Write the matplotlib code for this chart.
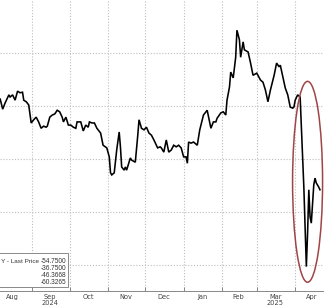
import matplotlib
matplotlib.use("Agg")
import matplotlib.pyplot as plt
import matplotlib.dates as mdates
from matplotlib.patches import Ellipse, Rectangle
import pandas as pd

dates = [
    "2024-08-06","2024-08-08","2024-08-10","2024-08-13","2024-08-14","2024-08-16","2024-08-18",
    "2024-08-20","2024-08-22","2024-08-24","2024-08-25","2024-08-27","2024-08-29","2024-08-31",
    "2024-09-02","2024-09-04","2024-09-06","2024-09-08","2024-09-10","2024-09-12","2024-09-13",
    "2024-09-15","2024-09-17","2024-09-19","2024-09-21","2024-09-23","2024-09-25","2024-09-26",
    "2024-09-28","2024-09-30","2024-10-02","2024-10-04","2024-10-06","2024-10-07","2024-10-10",
    "2024-10-12","2024-10-14","2024-10-16","2024-10-17","2024-10-19","2024-10-21","2024-10-23",
    "2024-10-26","2024-10-28","2024-10-31","2024-11-02","2024-11-03","2024-11-04","2024-11-06",
    "2024-11-08","2024-11-10","2024-11-11","2024-11-12","2024-11-14","2024-11-15","2024-11-16",
    "2024-11-19","2024-11-20","2024-11-23","2024-11-25","2024-11-26","2024-11-28","2024-11-30",
    "2024-12-02","2024-12-04","2024-12-06","2024-12-08","2024-12-11","2024-12-13","2024-12-14",
    "2024-12-16","2024-12-18","2024-12-20","2024-12-22","2024-12-24","2024-12-26","2024-12-28",
    "2024-12-30","2025-01-01","2025-01-03","2025-01-04","2025-01-05","2025-01-07","2025-01-09",
    "2025-01-10","2025-01-12","2025-01-14","2025-01-17","2025-01-19","2025-01-20","2025-01-23",
    "2025-01-25","2025-01-27","2025-01-28","2025-01-31","2025-02-02","2025-02-04","2025-02-05",
    "2025-02-07","2025-02-08","2025-02-10","2025-02-12","2025-02-13","2025-02-15","2025-02-16",
    "2025-02-18","2025-02-19","2025-02-22","2025-02-24","2025-02-26","2025-03-01","2025-03-04",
    "2025-03-06","2025-03-08","2025-03-10","2025-03-12","2025-03-15","2025-03-17","2025-03-19",
    "2025-03-20","2025-03-22","2025-03-24","2025-03-26","2025-03-28","2025-03-30","2025-03-31",
    "2025-04-01","2025-04-03","2025-04-05","2025-04-06","2025-04-07","2025-04-08","2025-04-09",
    "2025-04-10","2025-04-11","2025-04-12","2025-04-13","2025-04-14","2025-04-16","2025-04-17",
    "2025-04-18","2025-04-20","2025-04-21",
]
values = [
    -28.7,-30.6,-29.4,-27.9,-28.3,-27.9,-28.9,
    -27.2,-27.5,-27.4,-28.9,-29.2,-29.8,-33.2,
    -32.6,-32.1,-33.0,-34.2,-33.8,-34.0,-33.8,
    -32.1,-31.7,-31.5,-30.8,-31.1,-32.1,-33.0,
    -32.1,-33.6,-33.6,-34.0,-34.2,-33.0,-33.0,
    -34.7,-33.6,-34.0,-33.0,-33.2,-33.2,-34.2,
    -35.1,-37.4,-37.9,-39.6,-42.6,-43.0,-42.6,
    -38.3,-34.9,-37.7,-41.5,-42.1,-41.5,-42.1,
    -39.8,-40.2,-40.6,-35.5,-32.6,-34.2,-34.5,
    -34.0,-35.1,-35.5,-36.4,-37.9,-37.7,-37.9,
    -38.7,-36.4,-38.7,-38.3,-37.4,-37.7,-37.4,
    -37.9,-39.6,-39.6,-40.8,-36.8,-37.0,-36.8,
    -37.0,-37.4,-34.5,-31.7,-31.1,-30.8,-34.2,
    -33.0,-33.0,-32.3,-31.3,-31.1,-31.7,-28.9,
    -26.4,-23.6,-24.7,-20.8,-15.7,-17.5,-20.8,
    -17.9,-19.4,-19.8,-21.9,-24.2,-23.8,-25.1,
    -25.5,-27.0,-29.2,-27.0,-24.2,-21.9,-22.6,
    -22.3,-24.5,-26.6,-27.9,-30.2,-30.4,-30.2,
    -28.9,-27.9,-28.3,-34.0,-40.2,-45.4,-52.7,
    -60.3,-54.0,-45.8,-50.9,-52.1,-44.9,-43.6,
    -44.5,-45.3,-45.8,
]
legend_label = "Y - Last Price"
legend_values = ["-54.7500", "-36.7500", "-46.3668", "-60.3265"]
month_labels = ["Aug", "Sep\n2024", "Oct", "Nov", "Dec", "Jan", "Feb", "Mar\n2025", "Apr"]
month_label_dates = ["2024-08-16","2024-09-15","2024-10-16","2024-11-15","2024-12-16",
                     "2025-01-16","2025-02-14","2025-03-16","2025-04-14"]
month_starts = ["2024-09-01","2024-10-01","2024-11-01","2024-12-01","2025-01-01",
                "2025-02-01","2025-03-01","2025-04-01"]
grid_levels = [-20, -30, -40, -50, -60]
ellipse_center = ("2025-04-11", -44.3)
ellipse_size = (24.2, 37.9)  # days, units

W, H = 324, 307
fig = plt.figure(figsize=(W/100, H/100), dpi=100)
ax = fig.add_axes([0, 16/H, 1, 291/H])

x = pd.to_datetime(dates)
ax.plot(x, values, color="black", lw=1.15, solid_joinstyle="miter", zorder=3)

ax.set_xlim(pd.Timestamp("2024-08-05 20:00"), pd.Timestamp("2025-04-24 06:00"))
ax.set_ylim(-64.9, -10.0)

for g in grid_levels:
    ax.axhline(g, color="#bdbdbd", lw=0.8, ls=(0, (1, 1.6)), zorder=1)
for m in month_starts:
    ax.axvline(pd.Timestamp(m), color="#bdbdbd", lw=0.8, ls=(0, (1, 1.6)), zorder=1)

ax.set_xticks(pd.to_datetime(month_starts))
ax.set_xticklabels([])
ax.tick_params(axis="x", which="major", direction="in", length=3, width=0.6, color="#777777")
ax.set_xticks(pd.to_datetime(month_label_dates), minor=True)
ax.set_xticklabels(month_labels, minor=True, fontsize=4.8, color="#444444",
                   family="DejaVu Sans", linespacing=0.95)
ax.tick_params(axis="x", which="minor", length=0, pad=2)
ax.set_yticks([])
for s in ["top", "left", "right"]:
    ax.spines[s].set_visible(False)
ax.spines["bottom"].set_color("#888888")
ax.spines["bottom"].set_linewidth(0.7)

ec = mdates.date2num(pd.Timestamp(ellipse_center[0]))
ell = Ellipse((ec, ellipse_center[1]), ellipse_size[0], ellipse_size[1],
              fill=False, edgecolor="#a04545", lw=1.1, zorder=4)
ax.add_patch(ell)

def fx(px):
    return px / W
def fy(py):
    return 1 - py / H

fig.patches.append(Rectangle((fx(-2), fy(287)), fx(70), 34/H, transform=fig.transFigure,
                             facecolor="white", edgecolor="#8a8a8a", lw=0.7, zorder=5))
fig.text(fx(1), fy(261.7), legend_label, fontsize=4.6, color="#333333",
         family="Liberation Sans", ha="left", va="center", zorder=6)
for i, v in enumerate(legend_values):
    fig.text(fx(66), fy(261.7 + i * 7.0), v, fontsize=4.7, color="#333333",
             family="Liberation Sans", ha="right", va="center", zorder=6)

fig.savefig("out.png", dpi=100, facecolor="white")
